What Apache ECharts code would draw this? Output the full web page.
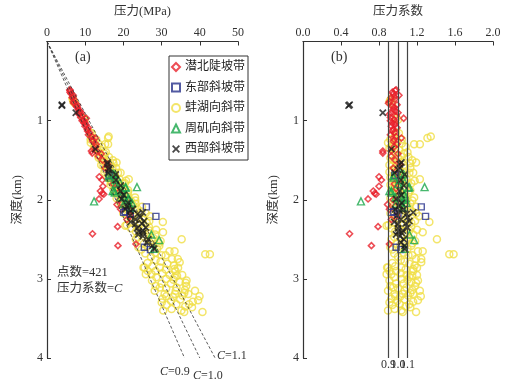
<!DOCTYPE html>
<html>
<head>
<meta charset="utf-8">
<script src="https://cdn.jsdelivr.net/npm/echarts@6/dist/echarts.min.js"></script>
<style>
  html, body { margin: 0; padding: 0; background: #fff; }
  #main { width: 511px; height: 386px; }
</style>
</head>
<body>
<div id="main"></div>
<script>
  // 每个点: [压力系数, 深度(km)]，读自图(b)
  var qianbei = [ // 潜北陡坡带
    [0.97,0.62],[0.98,0.61],[0.95,0.66],[0.93,0.71],[0.965,0.73],[0.91,0.76],[0.90,0.78],
    [0.95,0.86],[0.975,0.88],[0.91,0.92],[0.92,0.96],[0.98,0.94],[1.06,0.97],[0.93,1.07],
    [0.95,1.11],[0.965,1.15],[0.98,1.20],[1.035,1.22],[0.84,1.385],[0.95,1.26],[0.84,1.41],
    [0.80,1.71],[0.826,1.75],[0.80,1.83],[0.74,1.89],[0.77,1.93],[0.685,1.99],[0.755,1.92],
    [0.79,2.34],[0.49,2.43],[0.72,2.58],[0.91,2.56],[0.89,2.06],[0.91,2.12],
    [0.92,1.00],[0.94,1.03],[0.97,1.05],[0.99,1.30],[0.96,1.33],[1.00,1.42],[0.93,1.45],
    [0.97,1.50],[1.02,1.55],[0.95,1.60],[0.99,1.68],[1.01,1.75],[0.96,1.80],[0.98,1.86],
    [1.00,1.95],[0.95,2.00],[1.03,2.03],[0.97,2.08],[0.99,2.20],[0.93,2.25],[1.01,0.68],
    [0.99,0.80],[0.96,0.83],[0.94,0.82],[1.00,0.90],[0.96,0.99],[0.99,1.09],[0.92,1.18],
    [0.94,0.64],[0.96,0.70],[0.93,0.90],[0.97,1.02],[0.94,1.13],[0.96,1.24],[0.93,1.38]
  ];
  var dongbu = [ // 东部斜坡带
    [1.245,2.09],[1.29,2.21],[0.955,2.15],[0.98,2.60],[0.93,2.16],[0.965,1.69],[1.00,2.18],[1.03,2.63]
  ];
  var benghu = [ // 蚌湖向斜带
    [0.93,0.72],[0.91,0.76],[0.94,0.78],[0.92,0.74],[0.98,0.97],[1.00,0.99],[1.01,1.16],[0.98,1.15],
    [0.895,1.28],[1.345,1.20],[1.31,1.22],[1.23,1.30],[1.17,1.30],[1.19,1.53],[1.175,1.76],[1.23,1.74],
    [1.16,1.66],[1.13,1.60],[1.15,1.50],[1.10,1.40],[0.96,1.21],[1.04,1.24],
    [0.92,1.24],[0.99,1.26],[1.04,1.29],[0.95,1.31],[1.08,1.33],[0.91,1.35],[1.01,1.37],[0.97,1.40],
    [1.06,1.42],[0.93,1.44],[1.11,1.46],[1.00,1.48],[0.95,1.50],[1.04,1.52],[1.13,1.54],[0.91,1.56],
    [0.98,1.58],[1.07,1.60],[0.94,1.62],[1.02,1.64],[1.12,1.66],[0.96,1.68],[1.05,1.70],[0.92,1.72],
    [1.09,1.74],[1.00,1.76],[0.94,1.78],[1.14,1.79],[1.03,1.81],[0.97,1.83],[1.08,1.85],[0.93,1.87],
    [1.01,1.89],[1.11,1.91],[0.96,1.93],[1.05,1.95],[1.17,1.97],[0.99,1.99],[1.09,2.01],[0.94,2.03],
    [1.13,2.05],[1.02,2.07],[1.19,2.09],[0.97,2.11],[1.07,2.13],[1.15,2.15],[0.92,2.17],[1.04,2.19],
    [1.22,2.21],[0.99,2.23],[1.11,2.25],[1.18,2.27],[0.95,2.29],[1.06,2.31],[1.33,2.28],[1.26,2.41],
    [0.88,2.33],[0.90,2.32],[1.14,2.34],[1.01,2.36],[1.20,2.38],[0.97,2.40],[1.09,2.42],[1.16,2.44],
    [1.41,2.50],[1.03,2.46],[1.12,2.48],[0.93,2.50],[1.18,2.52],[1.06,2.54],[0.99,2.56],[1.14,2.58],
    [1.21,2.65],[1.54,2.69],[1.585,2.69],[1.245,2.75],[0.92,2.60],[1.19,2.75],[1.26,2.65],[1.10,2.62],
    [0.895,2.855],[0.93,2.94],[0.91,3.02],[0.895,3.15],[0.93,3.25],[0.895,3.40],[0.965,3.38],[1.05,3.19],
    [1.035,2.855],[1.16,2.90],[1.21,3.02],[1.23,3.15],[1.21,3.27],[1.19,3.42],[1.12,3.32],[1.09,3.11],
    [0.98,3.06],[0.965,3.19],[1.02,3.32],[1.12,2.98],[1.175,2.83],[1.245,2.79],[0.98,2.90],[0.88,2.94],
    [1.105,3.21],[1.16,3.19],[1.14,3.04],[1.035,3.40],[0.885,2.855],[1.16,2.875],[1.07,2.78],[1.00,2.72],
    [0.94,2.80],[1.09,2.95],[1.04,3.00],[0.92,3.09],[1.18,3.09],[1.07,3.26],[0.99,3.28],[1.13,3.36],
    [0.94,3.33],[1.06,3.06],[1.11,2.70],[0.96,2.68],[1.00,3.12],[1.24,3.22],[1.15,3.14],
    [0.93,1.33],[0.97,1.36],[1.03,1.45],[0.92,1.47],[0.99,1.53],[1.06,1.56],[0.94,1.57],[1.01,1.61],
    [0.91,1.65],[1.07,1.66],[0.98,1.71],[1.04,1.73],[0.95,1.75],[1.10,1.79],[0.92,1.81],[1.06,1.83],
    [1.00,1.86],[1.13,1.88],[0.94,1.91],[1.03,1.93],[1.08,1.96],[0.92,1.98],[1.15,2.01],[1.01,2.04],
    [1.09,2.07],[0.95,2.08],[1.12,2.11],[1.01,2.14],[1.19,2.17],[0.96,2.20],[1.08,2.22],[1.14,2.29],
    [1.03,2.32],[0.93,2.36],[1.12,2.39],[1.06,2.44],[0.96,2.47],[1.09,2.51],[1.15,2.55],[1.02,2.58],
    [0.94,2.63],[1.06,2.67],[1.15,2.70],[1.03,2.76],[1.12,2.81],[0.97,2.84],[1.20,2.86],[1.08,2.88],
    [0.91,2.90],[1.03,2.93],[1.15,2.96],[0.96,2.98],[1.10,3.01],[1.19,3.05],[0.95,3.11],[1.07,3.15],
    [1.13,3.18],[1.02,3.23],[0.91,3.30],[1.16,3.29],[1.08,3.35],[1.05,3.42],[0.97,3.22],[1.20,2.95]
  ];
  var zhouji = [ // 周矶向斜带
    [1.28,1.84],[0.61,2.02],[0.95,1.70],[1.035,1.67],[1.07,1.78],[1.12,1.84],[0.93,1.89],[0.975,1.97],
    [1.025,2.02],[1.07,1.93],[1.09,2.04],[0.955,1.72],[1.06,1.68],[1.11,1.85],[0.91,1.89],[1.12,2.44],
    [1.17,2.51],[1.07,2.62],[0.93,1.91],[1.00,1.80],[1.04,1.88],[1.08,1.98],[0.98,2.05],[1.05,2.10],
    [1.02,1.75],[1.03,1.96],[1.06,2.00]
  ];
  var xibu = [ // 西部斜坡带
    [0.48,0.81],[0.49,0.80],[0.84,0.90],[0.93,1.36],[1.035,1.53],[1.02,1.60],[0.965,1.66],[1.07,1.68],
    [1.02,1.89],[1.035,1.94],[1.02,1.55],[1.00,1.62],[1.02,2.14],[1.09,2.18],[1.16,2.16],[1.00,2.31],
    [1.05,2.39],[1.02,2.46],[1.07,2.58],[1.07,2.62],[1.03,1.75],[1.06,1.82],[0.98,1.99],[1.04,2.04],
    [1.01,2.08],[0.97,2.12],[1.06,2.12],[1.10,2.22],[1.12,2.27],[0.99,2.20],[1.03,2.25],[0.96,2.28],
    [1.08,2.30],[1.00,2.36],[1.04,2.42],[0.98,2.44],[1.06,2.50],[1.03,2.54],[1.00,2.40],[1.10,2.35]
  ];
  var cLines = [0.9, 1.0, 1.1];   // 压力系数参考线
  var pressureTicks = [0, 50, 10]; // min, max, interval
  var coefTicks = [0, 2, 0.4];
  var depthTicks = [0, 4, 1];

  var serif = '"Liberation Serif", "Noto Sans CJK SC", serif';
  var zones = [
    {name: '潜北陡坡带', data: qianbei, symbol: 'diamond', size: 6, color: '#e8212b', bw: 1.6},
    {name: '东部斜坡带', data: dongbu, symbol: 'rect', size: 6, color: '#27318b', bw: 1.4},
    {name: '蚌湖向斜带', data: benghu, symbol: 'circle', size: 7, color: '#f0de45', bw: 1.5},
    {name: '周矶向斜带', data: zhouji, symbol: 'triangle', size: 7, color: '#19a64a', bw: 1.4},
    {name: '西部斜坡带', data: xibu,
     symbol: 'path://M0,1.6L1.6,0L5,3.4L8.4,0L10,1.6L6.6,5L10,8.4L8.4,10L5,6.6L1.6,10L0,8.4L3.4,5Z',
     size: 7.5, color: '#1a1a1a', bw: 0}
  ];
  var drawOrder = [2, 0, 1, 3, 4];

  function hydro(d) { return d * 10; } // 静水压力 10 MPa/km

  var series = [];
  drawOrder.forEach(function (k) {
    var z = zones[k];
    var style = z.bw ? {color: 'rgba(255,255,255,0)', borderColor: z.color, borderWidth: z.bw}
                     : {color: z.color};
    series.push({
      name: z.name, type: 'scatter', xAxisIndex: 0, yAxisIndex: 0,
      symbol: z.symbol, symbolSize: z.size, itemStyle: style, silent: true,
      data: z.data.map(function (p) { return [p[0] * hydro(p[1]), p[1]]; })
    });
    series.push({
      name: z.name, type: 'scatter', xAxisIndex: 1, yAxisIndex: 1,
      symbol: z.symbol, symbolSize: z.size, itemStyle: style, silent: true,
      data: z.data
    });
  });

  // 图(a) 斜线 C=0.9/1.0/1.1
  series.push({
    type: 'line', xAxisIndex: 0, yAxisIndex: 0, data: [], z: 1,
    markLine: {
      silent: true, symbol: 'none', animation: false,
      lineStyle: {color: '#333', width: 0.8, type: [3, 2]},
      label: {show: false},
      data: cLines.map(function (c) {
        return [{coord: [0, 0]}, {coord: [c * hydro(depthTicks[1]), depthTicks[1]]}];
      })
    }
  });
  // 图(b) 竖线
  series.push({
    type: 'line', xAxisIndex: 1, yAxisIndex: 1, data: [], z: 1,
    markLine: {
      silent: true, symbol: 'none', animation: false,
      lineStyle: {color: '#444', width: 1.2, type: 'solid'},
      label: {show: true, position: 'end', distance: 1, color: '#333', fontSize: 12, fontFamily: serif,
        formatter: function (p) { return p.name; }},
      data: cLines.map(function (c) {
        return [{coord: [c, 0], name: c.toFixed(1)}, {coord: [c, depthTicks[1]]}];
      })
    }
  });

  function xAx(idx, name, t, fmt) {
    return {
      gridIndex: idx, type: 'value', position: 'top', min: t[0], max: t[1], interval: t[2],
      name: name, nameLocation: 'middle', nameGap: 24,
      nameTextStyle: {fontSize: 12.5, color: '#333', fontFamily: serif},
      axisLine: {lineStyle: {color: '#333', width: 1.2}},
      axisTick: {inside: true, length: 4, lineStyle: {color: '#333'}},
      axisLabel: {margin: 3, fontSize: 12, color: '#333', fontFamily: serif, formatter: fmt},
      splitLine: {show: false}
    };
  }
  function yAx(idx) {
    return {
      gridIndex: idx, type: 'value', inverse: true, min: depthTicks[0], max: depthTicks[1],
      interval: depthTicks[2],
      name: '深度(km)', nameLocation: 'middle', nameGap: 23, nameRotate: 90,
      nameTextStyle: {fontSize: 12.5, color: '#333', fontFamily: serif},
      axisLine: {lineStyle: {color: '#333', width: 1.2}},
      axisTick: {inside: true, length: 4, lineStyle: {color: '#333'}},
      axisLabel: {margin: 4, fontSize: 12, color: '#333', fontFamily: serif,
        formatter: function (v) { return v === 0 ? '' : v; }},
      splitLine: {show: false}
    };
  }

  var chart = echarts.init(document.getElementById('main'));
  chart.setOption({
    animation: false,
    backgroundColor: '#fff',
    grid: [
      {left: 47, top: 40, width: 191, height: 318},
      {left: 303, top: 40, width: 190, height: 318}
    ],
    xAxis: [
      xAx(0, '压力(MPa)', pressureTicks, null),
      xAx(1, '压力系数', coefTicks, function (v) { return v.toFixed(1); })
    ],
    yAxis: [yAx(0), yAx(1)],
    legend: {
      orient: 'vertical', left: 169, top: 56,
      padding: [5, 3, 5, 2], itemGap: 8.5, itemWidth: 8, itemHeight: 8,
      borderColor: '#333', borderWidth: 1, backgroundColor: '#fff',
      textStyle: {fontSize: 12, color: '#222', fontFamily: serif},
      data: zones.map(function (z) { return z.name; })
    },
    graphic: [
      {type: 'text', left: 75, top: 50, style: {text: '(a)', fontSize: 14, fill: '#333', fontFamily: serif}},
      {type: 'text', left: 331, top: 50, style: {text: '(b)', fontSize: 14, fill: '#333', fontFamily: serif}},
      {type: 'text', left: 57, top: 266, style: {text: '点数=421', fontSize: 12.5, fill: '#333', fontFamily: serif}},
      {type: 'text', left: 57, top: 282, style: {
        text: '压力系数={i|C}', fontSize: 12.5, fill: '#333', fontFamily: serif,
        rich: {i: {fontStyle: 'italic', fontSize: 12.5, fill: '#333', fontFamily: serif}}}},
      {type: 'text', left: 160, top: 366, style: {
        text: '{i|C}=0.9', fontSize: 12, fill: '#333', fontFamily: serif,
        rich: {i: {fontStyle: 'italic', fontSize: 12, fontFamily: serif}}}},
      {type: 'text', left: 193, top: 370, style: {
        text: '{i|C}=1.0', fontSize: 12, fill: '#333', fontFamily: serif,
        rich: {i: {fontStyle: 'italic', fontSize: 12, fontFamily: serif}}}},
      {type: 'text', left: 217, top: 350, style: {
        text: '{i|C}=1.1', fontSize: 12, fill: '#333', fontFamily: serif,
        rich: {i: {fontStyle: 'italic', fontSize: 12, fontFamily: serif}}}}
    ],
    series: series
  });
</script>
</body>
</html>
